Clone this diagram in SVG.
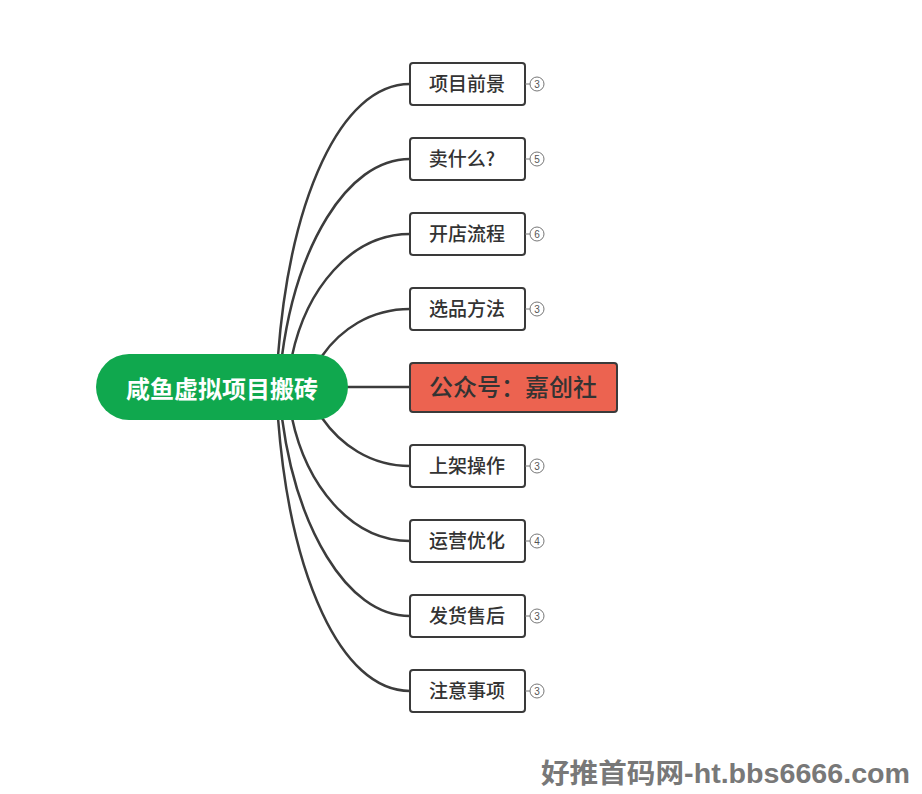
<svg xmlns="http://www.w3.org/2000/svg" width="922" height="794" viewBox="0 0 922 794">
<defs>
<style>
.conn{fill:none;stroke:#3c3c3c;stroke-width:2.5;stroke-linecap:round}
.box{fill:#fff;stroke:#3a3a3a;stroke-width:2}
.lbl{font-family:"Noto Sans CJK SC","Noto Sans",sans-serif;font-size:19px;font-weight:500;fill:#333;text-anchor:middle}
.badge{fill:#fff;stroke:#777;stroke-width:1}
.bline{stroke:#777;stroke-width:1}
.bnum{font-family:"Liberation Sans",sans-serif;font-size:10px;fill:#555;text-anchor:middle}
</style>
</defs>
<rect width="922" height="794" fill="#fff"/>
<g id="connectors">
<path class="conn" d="M278 356 C290 200 340 84 410 84"/>
<path class="conn" d="M282 356 C296 250 345 159 410 159"/>
<path class="conn" d="M292 356 C306 290 350 234 410 234"/>
<path class="conn" d="M322 356 C340 330 370 309 410 309"/>
<path class="conn" d="M348 387 L410 387"/>
<path class="conn" d="M322 418 C340 444 370 466 410 466"/>
<path class="conn" d="M292 418 C306 484 350 541 410 541"/>
<path class="conn" d="M282 418 C296 524 345 616 410 616"/>
<path class="conn" d="M278 418 C290 574 340 691 410 691"/>
</g>
<g id="root">
<rect x="96" y="354" width="252" height="66" rx="33" fill="#10A84E"/>
<text x="222" y="398" font-family="Noto Sans CJK SC,sans-serif" font-size="24" font-weight="bold" fill="#fff" text-anchor="middle">咸鱼虚拟项目搬砖</text>
</g>
<g id="n1"><rect class="box" x="410" y="63" width="115" height="42" rx="3"/><text class="lbl" x="467" y="91">项目前景</text><line class="bline" x1="525" y1="84" x2="530" y2="84"/><circle class="badge" cx="537" cy="84" r="7"/><text class="bnum" x="537" y="87.5">3</text></g>
<g id="n2"><rect class="box" x="410" y="138" width="115" height="42" rx="3"/><text class="lbl" x="462" y="166">卖什么?</text><line class="bline" x1="525" y1="159" x2="530" y2="159"/><circle class="badge" cx="537" cy="159" r="7"/><text class="bnum" x="537" y="162.5">5</text></g>
<g id="n3"><rect class="box" x="410" y="213" width="115" height="42" rx="3"/><text class="lbl" x="467" y="241">开店流程</text><line class="bline" x1="525" y1="234" x2="530" y2="234"/><circle class="badge" cx="537" cy="234" r="7"/><text class="bnum" x="537" y="237.5">6</text></g>
<g id="n4"><rect class="box" x="410" y="288" width="115" height="42" rx="3"/><text class="lbl" x="467" y="316">选品方法</text><line class="bline" x1="525" y1="309" x2="530" y2="309"/><circle class="badge" cx="537" cy="309" r="7"/><text class="bnum" x="537" y="312.5">3</text></g>
<g id="n5"><rect x="410" y="363" width="207" height="49" rx="3" fill="#EC6350" stroke="#3a3a3a" stroke-width="2"/><text x="513" y="396" font-family="Noto Sans CJK SC,sans-serif" font-size="24" font-weight="500" fill="#333" text-anchor="middle">公众号：嘉创社</text></g>
<g id="n6"><rect class="box" x="410" y="445" width="115" height="42" rx="3"/><text class="lbl" x="467" y="473">上架操作</text><line class="bline" x1="525" y1="466" x2="530" y2="466"/><circle class="badge" cx="537" cy="466" r="7"/><text class="bnum" x="537" y="469.5">3</text></g>
<g id="n7"><rect class="box" x="410" y="520" width="115" height="42" rx="3"/><text class="lbl" x="467" y="548">运营优化</text><line class="bline" x1="525" y1="541" x2="530" y2="541"/><circle class="badge" cx="537" cy="541" r="7"/><text class="bnum" x="537" y="544.5">4</text></g>
<g id="n8"><rect class="box" x="410" y="595" width="115" height="42" rx="3"/><text class="lbl" x="467" y="623">发货售后</text><line class="bline" x1="525" y1="616" x2="530" y2="616"/><circle class="badge" cx="537" cy="616" r="7"/><text class="bnum" x="537" y="619.5">3</text></g>
<g id="n9"><rect class="box" x="410" y="670" width="115" height="42" rx="3"/><text class="lbl" x="467" y="698">注意事项</text><line class="bline" x1="525" y1="691" x2="530" y2="691"/><circle class="badge" cx="537" cy="691" r="7"/><text class="bnum" x="537" y="694.5">3</text></g>
<text x="541" y="783" font-family="Liberation Sans,Noto Sans CJK SC,sans-serif" font-size="27" font-weight="bold" fill="#787878" textLength="369" lengthAdjust="spacingAndGlyphs">好推首码网-ht.bbs6666.com</text>
</svg>
